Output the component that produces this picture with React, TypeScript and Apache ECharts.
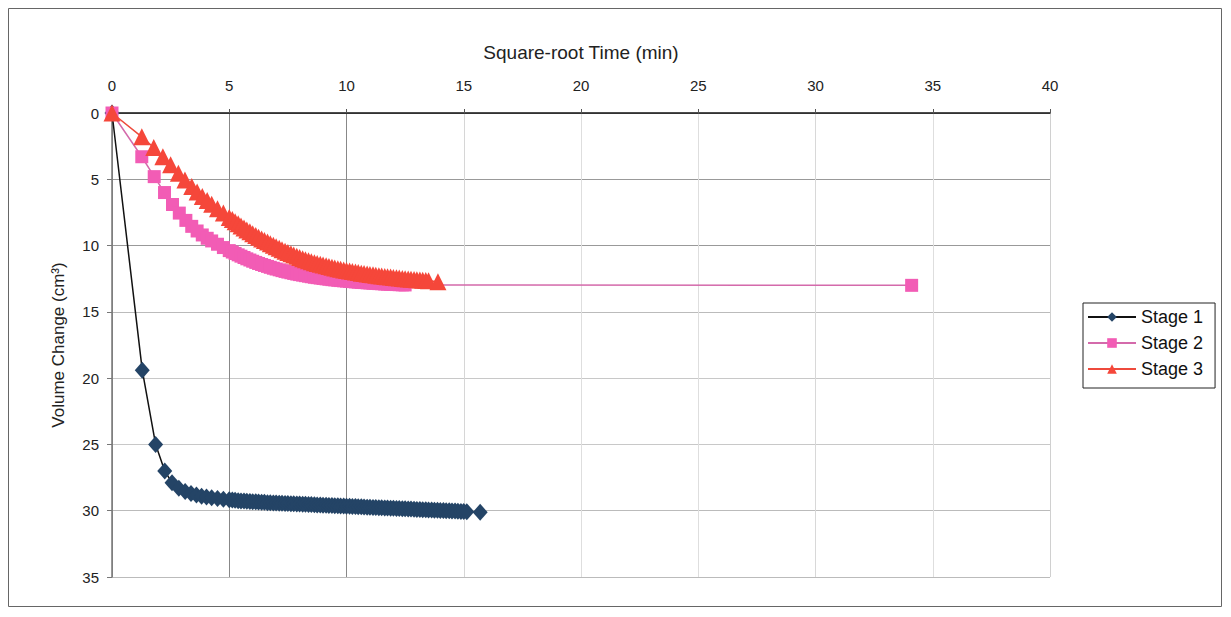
import React, { useEffect, useRef } from "react";
import * as echarts from "echarts";

// Square-root time (min^0.5) and volume change (cm³) for each consolidation stage
const stage1Time = [
  0, 1.29, 1.86, 2.25, 2.56, 2.85, 3.12, 3.37, 3.6, 3.82, 4.03, 4.25, 4.5, 4.75,
  5, 5.13, 5.25, 5.38, 5.5, 5.63, 5.75, 5.88, 6, 6.13, 6.25, 6.38, 6.5, 6.63, 6.75, 6.88,
  7, 7.13, 7.25, 7.38, 7.5, 7.63, 7.75, 7.88, 8, 8.13, 8.25, 8.38, 8.5, 8.63, 8.75, 8.88,
  9, 9.13, 9.25, 9.38, 9.5, 9.63, 9.75, 9.88, 10, 10.13, 10.25, 10.38, 10.5, 10.63, 10.75, 10.88,
  11, 11.13, 11.25, 11.38, 11.5, 11.63, 11.75, 11.88, 12, 12.13, 12.25, 12.38, 12.5, 12.63, 12.75, 12.88,
  13, 13.13, 13.25, 13.38, 13.5, 13.63, 13.75, 13.88, 14, 14.13, 14.25, 14.38, 14.5, 14.63, 14.75, 14.88,
  15, 15.13, 15.7,
];
const stage1Vol = [
  0, 19.4, 25.0, 27.0, 27.9, 28.3, 28.55, 28.7, 28.82, 28.9, 28.97, 29.03, 29.08, 29.13,
  29.18, 29.2, 29.22, 29.24, 29.26, 29.27, 29.29, 29.3, 29.32, 29.33, 29.35, 29.36, 29.37, 29.39, 29.4, 29.41,
  29.42, 29.43, 29.44, 29.45, 29.46, 29.47, 29.48, 29.49, 29.5, 29.51, 29.52, 29.53, 29.54, 29.55, 29.56, 29.57,
  29.58, 29.59, 29.6, 29.61, 29.62, 29.63, 29.64, 29.65, 29.66, 29.67, 29.68, 29.69, 29.7, 29.71, 29.72, 29.73,
  29.74, 29.75, 29.76, 29.77, 29.78, 29.79, 29.8, 29.81, 29.82, 29.83, 29.84, 29.85, 29.86, 29.87, 29.88, 29.89,
  29.9, 29.91, 29.92, 29.93, 29.94, 29.95, 29.96, 29.97, 29.98, 29.99, 30.0, 30.01, 30.02, 30.03, 30.04, 30.05,
  30.06, 30.07, 30.12,
];

const stage2Time = [
  0, 1.27, 1.8, 2.24, 2.58, 2.87, 3.15, 3.4, 3.63, 3.85, 4.06, 4.25, 4.5, 4.75,
  5, 5.13, 5.25, 5.38, 5.5, 5.63, 5.75, 5.88, 6, 6.13, 6.25, 6.38, 6.5, 6.63, 6.75, 6.88,
  7, 7.13, 7.25, 7.38, 7.5, 7.63, 7.75, 7.88, 8, 8.13, 8.25, 8.38, 8.5, 8.63, 8.75, 8.88,
  9, 9.13, 9.25, 9.38, 9.5, 9.63, 9.75, 9.88, 10, 10.13, 10.25, 10.38, 10.5, 10.63, 10.75, 10.88,
  11, 11.13, 11.25, 11.38, 11.5, 11.63, 11.75, 11.88, 12, 12.13, 12.25, 12.38, 12.5,
  34.1,
];
const stage2Vol = [
  0, 3.3, 4.8, 6.0, 6.9, 7.55, 8.1, 8.55, 8.9, 9.2, 9.45, 9.65, 9.9, 10.15,
  10.38, 10.49, 10.6, 10.7, 10.8, 10.9, 11.0, 11.09, 11.18, 11.27, 11.35, 11.43, 11.5, 11.57, 11.64, 11.71,
  11.77, 11.83, 11.89, 11.95, 12.0, 12.05, 12.1, 12.15, 12.19, 12.23, 12.27, 12.31, 12.35, 12.39, 12.42, 12.45,
  12.48, 12.51, 12.54, 12.57, 12.59, 12.62, 12.64, 12.66, 12.68, 12.7, 12.72, 12.74, 12.76, 12.78, 12.79, 12.81,
  12.82, 12.84, 12.85, 12.87, 12.88, 12.9, 12.91, 12.92, 12.93, 12.94, 12.95, 12.96, 12.97,
  13.0,
];

const stage3Time = [
  0, 1.27, 1.78, 2.17, 2.5, 2.83, 3.11, 3.4, 3.63, 3.85, 4.06, 4.25, 4.5, 4.75,
  5, 5.13, 5.25, 5.38, 5.5, 5.63, 5.75, 5.88, 6, 6.13, 6.25, 6.38, 6.5, 6.63, 6.75, 6.88,
  7, 7.13, 7.25, 7.38, 7.5, 7.63, 7.75, 7.88, 8, 8.13, 8.25, 8.38, 8.5, 8.63, 8.75, 8.88,
  9, 9.13, 9.25, 9.38, 9.5, 9.63, 9.75, 9.88, 10, 10.13, 10.25, 10.38, 10.5, 10.63, 10.75, 10.88,
  11, 11.13, 11.25, 11.38, 11.5, 11.63, 11.75, 11.88, 12, 12.13, 12.25, 12.38, 12.5, 12.63, 12.75, 12.88,
  13, 13.13, 13.25, 13.38, 13.5, 13.9,
];
const stage3Vol = [
  0, 1.8, 2.6, 3.3, 3.9, 4.55, 5.05, 5.55, 5.95, 6.3, 6.6, 6.88, 7.22, 7.55,
  7.88, 8.04, 8.2, 8.36, 8.52, 8.67, 8.82, 8.96, 9.1, 9.24, 9.37, 9.5, 9.62, 9.74, 9.86, 9.98,
  10.09, 10.2, 10.31, 10.42, 10.52, 10.62, 10.72, 10.81, 10.9, 10.99, 11.07, 11.15, 11.22, 11.29, 11.35, 11.41,
  11.47, 11.53, 11.58, 11.64, 11.69, 11.74, 11.79, 11.84, 11.88, 11.92, 11.96, 12.0, 12.04, 12.08, 12.11, 12.15,
  12.18, 12.21, 12.24, 12.27, 12.3, 12.33, 12.35, 12.38, 12.4, 12.43, 12.45, 12.48, 12.5, 12.52, 12.54, 12.56,
  12.58, 12.6, 12.62, 12.64, 12.66, 12.72,
];

const xTicks = { min: 0, max: 40, interval: 5 };
const yTicks = { min: 0, max: 35, interval: 5 };

const seriesNames = ["Stage 1", "Stage 2", "Stage 3"];

const zip = (xs: number[], ys: number[]) => xs.map((x, i) => [x, ys[i]]);

const FONT = "'Liberation Sans', Arial, Helvetica, sans-serif";

export default function App() {
  const ref = useRef<HTMLDivElement>(null);

  useEffect(() => {
    if (!ref.current) return;
    const chart = echarts.init(ref.current, undefined, { renderer: "svg" });

    chart.setOption({
      animation: false,
      backgroundColor: "#ffffff",
      textStyle: { fontFamily: FONT, color: "#222" },
      graphic: [
        {
          type: "rect",
          shape: { x: 8.5, y: 8.5, width: 1213, height: 598 },
          style: { fill: "none", stroke: "#666", lineWidth: 1 },
          silent: true,
          z: -1,
        },
      ],
      grid: { left: 112, top: 113, width: 938, height: 464, containLabel: false },
      legend: {
        orient: "vertical",
        left: 1083,
        top: 303,
        data: seriesNames,
        borderColor: "#222",
        borderWidth: 1,
        padding: [5, 12, 10, 4],
        itemGap: 8,
        itemWidth: 48,
        itemHeight: 12,
        textStyle: { fontSize: 18, color: "#111", fontFamily: FONT },
      },
      xAxis: {
        type: "value",
        position: "top",
        min: xTicks.min,
        max: xTicks.max,
        interval: xTicks.interval,
        name: "Square-root Time (min)",
        nameLocation: "middle",
        nameGap: 51,
        nameTextStyle: { fontSize: 19, color: "#222" },
        axisLine: { show: true, onZero: false, lineStyle: { color: "#111", width: 1.5 } },
        axisTick: { show: true, length: 4, lineStyle: { color: "#555" } },
        axisLabel: { fontSize: 15, color: "#222", margin: 20 },
        splitLine: {
          show: true,
          lineStyle: {
            color: ["#999", "#888", "#888", "#d6d6d6", "#dedede", "#dedede", "#d8d8d8", "#dedede", "#d0d0d0"],
            width: 1,
          },
        },
      },
      yAxis: {
        type: "value",
        inverse: true,
        min: yTicks.min,
        max: yTicks.max,
        interval: yTicks.interval,
        name: "Volume Change (cm³)",
        nameLocation: "middle",
        nameGap: 45,
        nameTextStyle: { fontSize: 17, color: "#222" },
        axisLine: { show: true, onZero: false, lineStyle: { color: "#777", width: 1.5 } },
        axisTick: { show: true, length: 5, lineStyle: { color: "#777" } },
        axisLabel: { fontSize: 15, color: "#222", margin: 13 },
        splitLine: {
          show: true,
          lineStyle: {
            color: ["#999", "#999", "#999", "#bbb", "#c8c8c8", "#c8c8c8", "#bbb", "#bbb"],
            width: 1,
          },
        },
      },
      series: [
        {
          name: seriesNames[0],
          type: "line",
          data: zip(stage1Time, stage1Vol),
          symbol: "diamond",
          symbolSize: [15, 17],
          showAllSymbol: true,
          itemStyle: { color: "#244466" },
          lineStyle: { color: "#111", width: 1.5 },
        },
        {
          name: seriesNames[1],
          type: "line",
          data: zip(stage2Time, stage2Vol),
          symbol: "rect",
          symbolSize: 13,
          showAllSymbol: true,
          itemStyle: { color: "#f25cb5" },
          lineStyle: { color: "#d46aab", width: 1.5 },
        },
        {
          name: seriesNames[2],
          type: "line",
          data: zip(stage3Time, stage3Vol),
          symbol: "triangle",
          symbolSize: 17,
          showAllSymbol: true,
          itemStyle: { color: "#f5473a" },
          lineStyle: { color: "#ee4a3c", width: 1.5 },
        },
      ],
    });

    return () => chart.dispose();
  }, []);

  return (
    <div
      ref={ref}
      style={{ position: "absolute", left: 0, top: 0, width: 1231, height: 617 }}
    />
  );
}
